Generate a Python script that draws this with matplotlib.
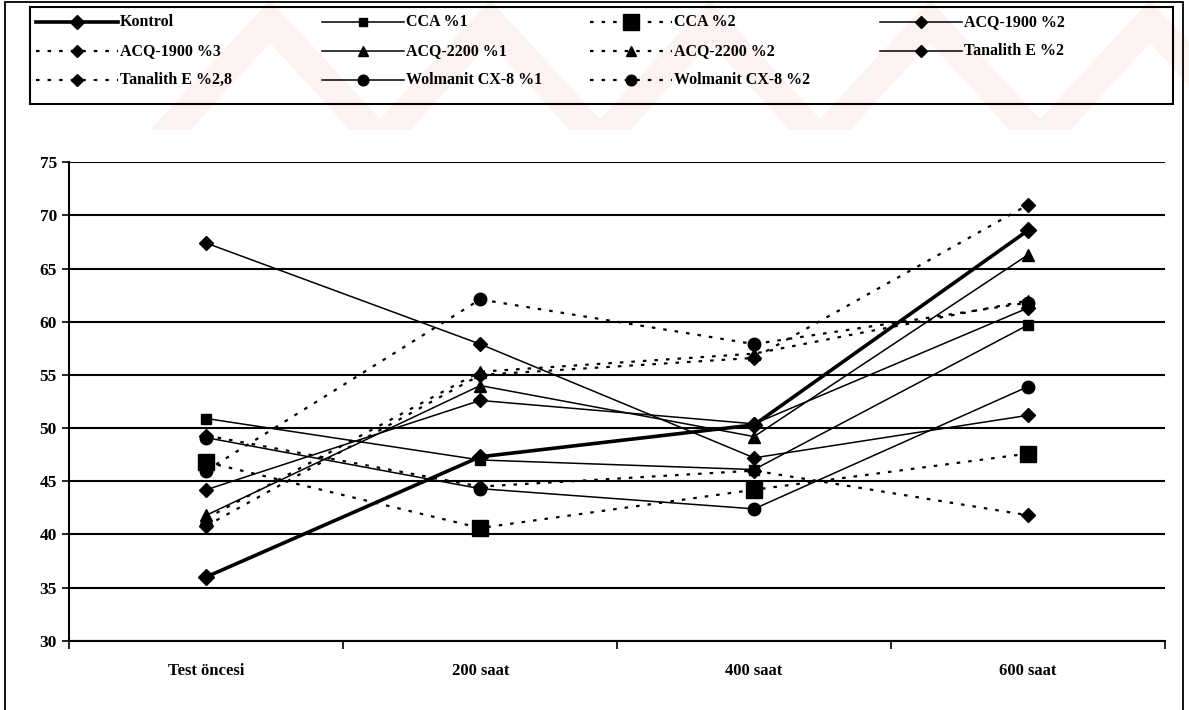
import matplotlib
matplotlib.use("Agg")
import matplotlib.pyplot as plt
from matplotlib.lines import Line2D
from matplotlib.patches import Rectangle, Polygon

plt.rcParams['font.family'] = ['Liberation Serif', 'DejaVu Serif']

# Time points on the x axis
categories = ["Test öncesi", "200 saat", "400 saat", "600 saat"]

# Measured values per treatment
kontrol        = [36.0, 47.3, 50.3, 68.6]
cca_1          = [50.9, 47.0, 46.1, 59.7]
cca_2          = [46.8, 40.6, 44.2, 47.6]
acq1900_2      = [67.4, 57.9, 47.2, 51.2]
acq1900_3      = [40.8, 55.0, 56.6, 71.0]
acq2200_1      = [41.8, 54.0, 49.2, 66.3]
acq2200_2      = [41.5, 55.3, 57.0, 62.0]
tanalith_2     = [44.2, 52.6, 50.4, 61.3]
tanalith_28    = [49.3, 44.5, 46.0, 41.8]
wolmanit_1     = [49.1, 44.3, 42.4, 53.9]
wolmanit_2     = [46.0, 62.1, 57.9, 61.8]

y_ticks = [30, 35, 40, 45, 50, 55, 60, 65, 70, 75]

series_names = ["Kontrol", "CCA %1", "CCA %2", "ACQ-1900 %2",
                "ACQ-1900 %3", "ACQ-2200 %1", "ACQ-2200 %2", "Tanalith E %2",
                "Tanalith E %2,8", "Wolmanit CX-8 %1", "Wolmanit CX-8 %2"]
series_values = [kontrol, cca_1, cca_2, acq1900_2,
                 acq1900_3, acq2200_1, acq2200_2, tanalith_2,
                 tanalith_28, wolmanit_1, wolmanit_2]

DOT = (0, (1.6, 3.6))
styles = [
    dict(ls='-', lw=2.6, marker='D', ms=8),
    dict(ls='-', lw=1.1, marker='s', ms=6.5),
    dict(ls=DOT, lw=1.6, marker='s', ms=11),
    dict(ls='-', lw=1.1, marker='D', ms=7.5),
    dict(ls=DOT, lw=1.6, marker='D', ms=7.5),
    dict(ls='-', lw=1.1, marker='^', ms=9),
    dict(ls=DOT, lw=1.6, marker='^', ms=9),
    dict(ls='-', lw=1.1, marker='D', ms=7.5),
    dict(ls=DOT, lw=1.6, marker='D', ms=7.5),
    dict(ls='-', lw=1.1, marker='o', ms=9),
    dict(ls=DOT, lw=1.6, marker='o', ms=9),
]

W, H = 1189, 710
fig = plt.figure(figsize=(W / 100, H / 100), dpi=100)
fig.patch.set_facecolor('white')


def fx(px):
    return px / W


def fy(py):
    return 1 - py / H


# faint wedge-shaped watermark across the top strip
for k in range(6):
    xs = 150 + k * 220
    fig.patches.append(Polygon([(fx(xs), fy(130)), (fx(xs + 120), fy(0)),
                                (fx(xs + 240), fy(130))],
                               closed=True, transform=fig.transFigure,
                               facecolor='#fdf2f2', edgecolor='none', zorder=0))
    fig.patches.append(Polygon([(fx(xs + 40), fy(130)), (fx(xs + 120), fy(43)),
                                (fx(xs + 200), fy(130))],
                               closed=True, transform=fig.transFigure,
                               facecolor='white', edgecolor='none', zorder=0))

ax = fig.add_axes([fx(69.3), fy(640.7), fx(1165) - fx(69.3), fy(162.3) - fy(640.7)])
ax.set_facecolor('none')

x = list(range(len(categories)))
for name, vals, st in zip(series_names, series_values, styles):
    ax.plot(x, vals, color='black', linestyle=st['ls'], linewidth=st['lw'],
            marker=st['marker'], markersize=st['ms'], markerfacecolor='black',
            markeredgecolor='black', label=name, zorder=3)

ax.set_xlim(-0.5, len(categories) - 0.5)
ax.set_ylim(30, 75)
ax.set_yticks(y_ticks)
ax.set_yticklabels([str(v) for v in y_ticks], fontsize=12.5, fontweight='bold')
ax.set_xticks(x)
ax.set_xticklabels(categories, fontsize=12, fontweight='bold')
ax.tick_params(axis='x', length=0, pad=16)
ax.set_xticks([i - 0.5 for i in range(len(categories) + 1)], minor=True)
ax.tick_params(axis='x', which='minor', length=6, width=1.2, direction='out')
ax.tick_params(axis='y', length=5, width=1.2, direction='out', pad=4)
ax.grid(axis='y', color='black', linewidth=1.5, zorder=1)
ax.set_axisbelow(True)
for s in ['top', 'right']:
    ax.spines[s].set_visible(False)
ax.spines['left'].set_linewidth(1.5)
ax.spines['bottom'].set_linewidth(1.5)

# legend box
fig.patches.append(Rectangle((fx(30), fy(104)), fx(1173) - fx(30), fy(7) - fy(104),
                             transform=fig.transFigure, fill=False,
                             edgecolor='black', linewidth=1.5, zorder=5))
# outer frame (open at the bottom edge of the page)
fig.patches.append(Rectangle((fx(5), fy(730)), fx(1183) - fx(5), fy(2) - fy(730),
                             transform=fig.transFigure, fill=False,
                             edgecolor='black', linewidth=1.3, zorder=5))

col_x = [36, 322, 590, 880]
row_y = [22, 51, 80]
handle_len = 82
order_rows = [[0, 1, 2, 3], [4, 5, 6, 7], [8, 9, 10]]
for r, row in enumerate(order_rows):
    for c, idx in enumerate(row):
        st = styles[idx]
        x0 = col_x[c]
        yy = fy(row_y[r])
        ms = st['ms'] * 0.85 if idx != 2 else st['ms']
        ln = Line2D([fx(x0), fx(x0 + handle_len)], [yy, yy], transform=fig.transFigure,
                    color='black', linestyle=st['ls'], linewidth=st['lw'])
        mk = Line2D([fx(x0 + handle_len / 2)], [yy], transform=fig.transFigure,
                    color='black', marker=st['marker'], markersize=ms, linestyle='none')
        fig.lines.extend([ln, mk])
        fig.text(fx(x0 + handle_len + 2), yy, series_names[idx], fontsize=11.5,
                 fontweight='bold', va='center', ha='left')

fig.savefig('out.png', dpi=100, facecolor='white')
